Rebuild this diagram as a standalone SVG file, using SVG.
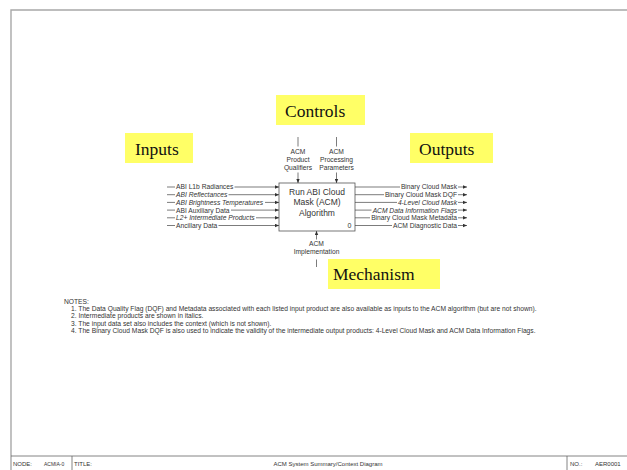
<svg xmlns="http://www.w3.org/2000/svg" width="627" height="470" viewBox="0 0 627 470">
<defs>
<marker id="ah" markerUnits="userSpaceOnUse" markerWidth="4" markerHeight="4" refX="4" refY="2" orient="auto"><path d="M0,0.3 L4,2 L0,3.7 z" fill="#333"/></marker>
</defs>
<style>
.frame{stroke:#a8a8a8;stroke-width:1.4;fill:none}
.tb{stroke:#666;stroke-width:0.8;fill:none}
.ln{stroke:#444;stroke-width:0.7;fill:none}
.arr{stroke:#444;stroke-width:0.7;fill:none;marker-end:url(#ah)}
.lbl{font-family:"Liberation Sans",Arial,sans-serif;font-size:6.7px;fill:#333}
.it{font-style:italic}
.ctr{text-anchor:middle}
.end{text-anchor:end}
.yl{fill:#ffff66}
.yt{font-family:"Liberation Serif","Times New Roman",serif;font-size:17.5px;fill:#111}
.box{fill:#fff;stroke:#555;stroke-width:0.8}
.bt{font-family:"Liberation Sans",Arial,sans-serif;font-size:8.5px;fill:#333;text-anchor:middle}
.note{font-family:"Liberation Sans",Arial,sans-serif;font-size:6.7px;fill:#333}
.ft{font-family:"Liberation Sans",Arial,sans-serif;font-size:6px;fill:#333}
</style>
<rect x="0" y="0" width="627" height="470" fill="#fff"/>
<g id="frame">
<path class="frame" d="M11,470 V10 H627"/>
<path class="tb" d="M11,456 H627 M72,456 V470 M567,456 V470"/>
<text class="ft" x="13" y="466">NODE:</text>
<text class="ft" x="44" y="466" style="font-size:5px">ACMIA-0</text>
<text class="ft" x="74" y="466">TITLE:</text>
<text class="ft ctr" x="328" y="466">ACM System Summary/Context Diagram</text>
<text class="ft" x="570" y="466">NO.:</text>
<text class="ft" x="595" y="466">AER0001</text>
</g>
<g id="label-inputs"><rect class="yl" x="125" y="133" width="68" height="30"/><text class="yt" x="135" y="155">Inputs</text></g>
<g id="label-outputs"><rect class="yl" x="410" y="133" width="83" height="30"/><text class="yt" x="419" y="155">Outputs</text></g>
<g id="label-controls"><rect class="yl" x="276" y="95" width="89" height="30"/><text class="yt" x="285" y="117">Controls</text></g>
<g id="label-mechanism"><rect class="yl" x="328" y="259" width="112" height="30"/><text class="yt" x="333" y="280">Mechanism</text></g>
<g id="node-acm">
<rect class="box" x="279" y="183" width="76" height="48"/>
<text class="bt" x="317" y="194.5">Run ABI Cloud</text>
<text class="bt" x="317" y="205">Mask (ACM)</text>
<text class="bt" x="317" y="215.5">Algorithm</text>
<text class="bt" x="349.5" y="228" style="font-size:7px">0</text>
</g>
<g id="connectors">
<path class="ln" d="M167,187 H175 M167,194.7 H175 M167,202.4 H175 M167,210.1 H175 M167,217.8 H175 M167,225.5 H175"/>
<path class="arr" d="M234.5,187 H279"/>
<path class="arr" d="M228.5,194.7 H279"/>
<path class="arr" d="M265,202.4 H279"/>
<path class="arr" d="M231,210.1 H279"/>
<path class="arr" d="M256,217.8 H279"/>
<path class="arr" d="M218.5,225.5 H279"/>
<path class="ln" d="M355,187 H400 M355,194.7 H384 M355,202.4 H397 M355,210.1 H371.5 M355,217.8 H370 M355,225.5 H392"/>
<path class="arr" d="M458,187 H467"/>
<path class="arr" d="M458,194.7 H467"/>
<path class="arr" d="M458,202.4 H467"/>
<path class="arr" d="M458,210.1 H467"/>
<path class="arr" d="M458,217.8 H467"/>
<path class="arr" d="M458,225.5 H467"/>
<path class="ln" d="M298,137 V146.5 M336.5,137 V146.5 M316.5,259.5 V267"/>
<path class="arr" d="M298,172.5 V183"/>
<path class="arr" d="M336.5,172.5 V183"/>
<path class="arr" d="M316.5,239.5 V231"/>
</g>
<g id="input-labels">
<text class="lbl" x="176" y="189.4">ABI L1b Radiances</text>
<text class="lbl it" x="176" y="197.1">ABI Reflectances</text>
<text class="lbl it" x="176" y="204.8">ABI Brightness Temperatures</text>
<text class="lbl" x="176" y="212.5">ABI Auxiliary Data</text>
<text class="lbl it" x="176" y="220.2">L2+ Intermediate Products</text>
<text class="lbl" x="176" y="227.9">Ancillary Data</text>
</g>
<g id="output-labels">
<text class="lbl end" x="457" y="189.4">Binary Cloud Mask</text>
<text class="lbl end" x="457" y="197.1">Binary Cloud Mask DQF</text>
<text class="lbl end it" x="457" y="204.8">4-Level Cloud Mask</text>
<text class="lbl end it" x="457" y="212.5">ACM Data Information Flags</text>
<text class="lbl end" x="457" y="220.2">Binary Cloud Mask Metadata</text>
<text class="lbl end" x="457" y="227.9">ACM Diagnostic Data</text>
</g>
<g id="control-labels">
<text class="lbl ctr" x="298" y="154.3">ACM</text>
<text class="lbl ctr" x="298" y="162.3">Product</text>
<text class="lbl ctr" x="298" y="170.3">Qualifiers</text>
<text class="lbl ctr" x="336.5" y="154.3">ACM</text>
<text class="lbl ctr" x="336.5" y="162.3">Processing</text>
<text class="lbl ctr" x="336.5" y="170.3">Parameters</text>
</g>
<g id="mechanism-labels">
<text class="lbl ctr" x="316.5" y="246.3">ACM</text>
<text class="lbl ctr" x="316.5" y="254.3">Implementation</text>
</g>
<g id="notes">
<text class="note" x="64" y="303.7">NOTES:</text>
<text class="note" x="71" y="311">1. The Data Quality Flag (DQF) and Metadata associated with each listed input product are also available as inputs to the ACM algorithm (but are not shown).</text>
<text class="note" x="71" y="318.3">2. Intermediate products are shown in italics.</text>
<text class="note" x="71" y="325.7">3. The input data set also includes the context (which is not shown).</text>
<text class="note" x="71" y="333">4. The Binary Cloud Mask DQF is also used to indicate the validity of the intermediate output products: 4-Level Cloud Mask and ACM Data Information Flags.</text>
</g>
</svg>
